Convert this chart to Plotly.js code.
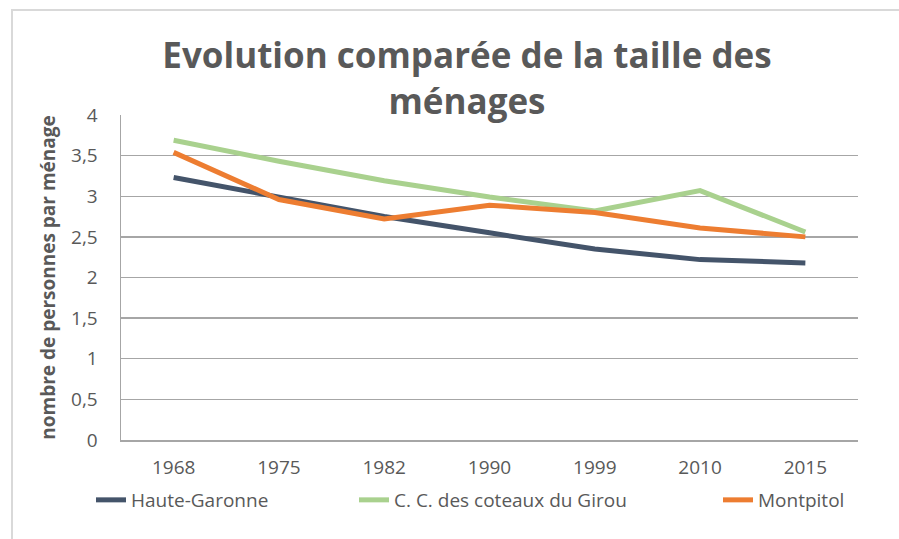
<!DOCTYPE html>
<html>
<head>
<meta charset="utf-8">
<script src="https://cdn.plot.ly/plotly-3.0.1.min.js"></script>
<style>
html,body{margin:0;padding:0;background:#fff;overflow:hidden;}
#wrap{position:relative;width:899px;height:539px;}
#chart{position:absolute;left:0;top:0;width:899px;height:539px;}
#frame{position:absolute;left:11px;top:9px;width:1000px;height:1000px;border:2px solid #d9d9d9;pointer-events:none;}
</style>
</head>
<body>
<div id="wrap"><div id="chart"></div><div id="frame"></div></div>
<script>
const years = ['1968', '1975', '1982', '1990', '1999', '2010', '2015'];
const hauteGaronne = [3.23, 2.99, 2.75, 2.55, 2.35, 2.22, 2.18];
const ccGirou = [3.69, 3.43, 3.19, 2.99, 2.82, 3.07, 2.56];
const montpitol = [3.54, 2.96, 2.72, 2.89, 2.80, 2.61, 2.50];
const seriesNames = ['Haute-Garonne', 'C. C. des coteaux du Girou', 'Montpitol'];
const seriesColors = ['#44546A', '#A9D18E', '#ED7D31'];
const yTicks = [0, 0.5, 1, 1.5, 2, 2.5, 3, 3.5, 4];

const textColor = '#595959';
const baseFont = 'Open Sans, Noto Sans, sans-serif';
const seriesValues = [hauteGaronne, ccGirou, montpitol];
const legendIds = ['legend', 'legend2', 'legend3'];
const traces = seriesValues.map((vals, i) => ({
  type: 'scatter', mode: 'lines', x: years, y: vals, name: seriesNames[i],
  line: {color: seriesColors[i], width: 5, shape: 'linear'},
  legend: legendIds[i], hoverinfo: 'x+y+name'
}));

// plot area in pixels: x 121..858, y 115..440
const pl = 121, pr = 858, pt = 115, pb = 440;
const px = v => (v - pl) / (pr - pl);
const py = v => (pb - v) / (pb - pt);
const legendStarts = [91, 354, 718];
const mkLegend = (x) => ({
  orientation: 'h', x: px(x), y: py(500), xanchor: 'left', yanchor: 'middle',
  font: {family: baseFont, size: 19, color: textColor}, bgcolor: 'rgba(0,0,0,0)',
  itemwidth: 30
});

const layout = {
  width: 899, height: 539,
  margin: {l: pl, r: 899 - pr, t: pt, b: 539 - pb, pad: 0},
  paper_bgcolor: '#ffffff', plot_bgcolor: '#ffffff',
  separators: ', ',
  font: {family: baseFont, color: textColor},
  title: {
    text: 'Evolution comparée de la taille des<br>ménages',
    font: {family: baseFont, size: 35, color: textColor, weight: 'bold'},
    x: 467 / 899, xref: 'container', xanchor: 'center',
    y: 1 - 68 / 539, yref: 'container', yanchor: 'top'
  },
  xaxis: {
    type: 'category', categoryarray: years, range: [-0.5, years.length - 0.5],
    showline: true, linecolor: '#a6a6a6', linewidth: 1.5,
    showgrid: false, zeroline: false, ticks: '',
    tickfont: {family: baseFont, size: 19, color: textColor},
    ticklabelstandoff: 10, fixedrange: true
  },
  yaxis: {
    range: [0, 4], tickvals: yTicks, tickformat: '.1~f',
    showline: true, linecolor: '#a6a6a6', linewidth: 1.5,
    showgrid: true, gridcolor: '#a6a6a6', gridwidth: 1.3,
    zeroline: false, ticks: '',
    tickfont: {family: baseFont, size: 19, color: textColor},
    ticklabelstandoff: 18,
    title: {text: 'nombre de personnes par ménage', font: {family: baseFont, size: 19, color: textColor, weight: 'bold'}, standoff: 10},
    fixedrange: true
  },
  legend: mkLegend(legendStarts[0]),
  legend2: mkLegend(legendStarts[1]),
  legend3: mkLegend(legendStarts[2]),
  showlegend: true
};

Plotly.newPlot('chart', traces, layout, {staticPlot: true, displayModeBar: false});
</script>
</body>
</html>
